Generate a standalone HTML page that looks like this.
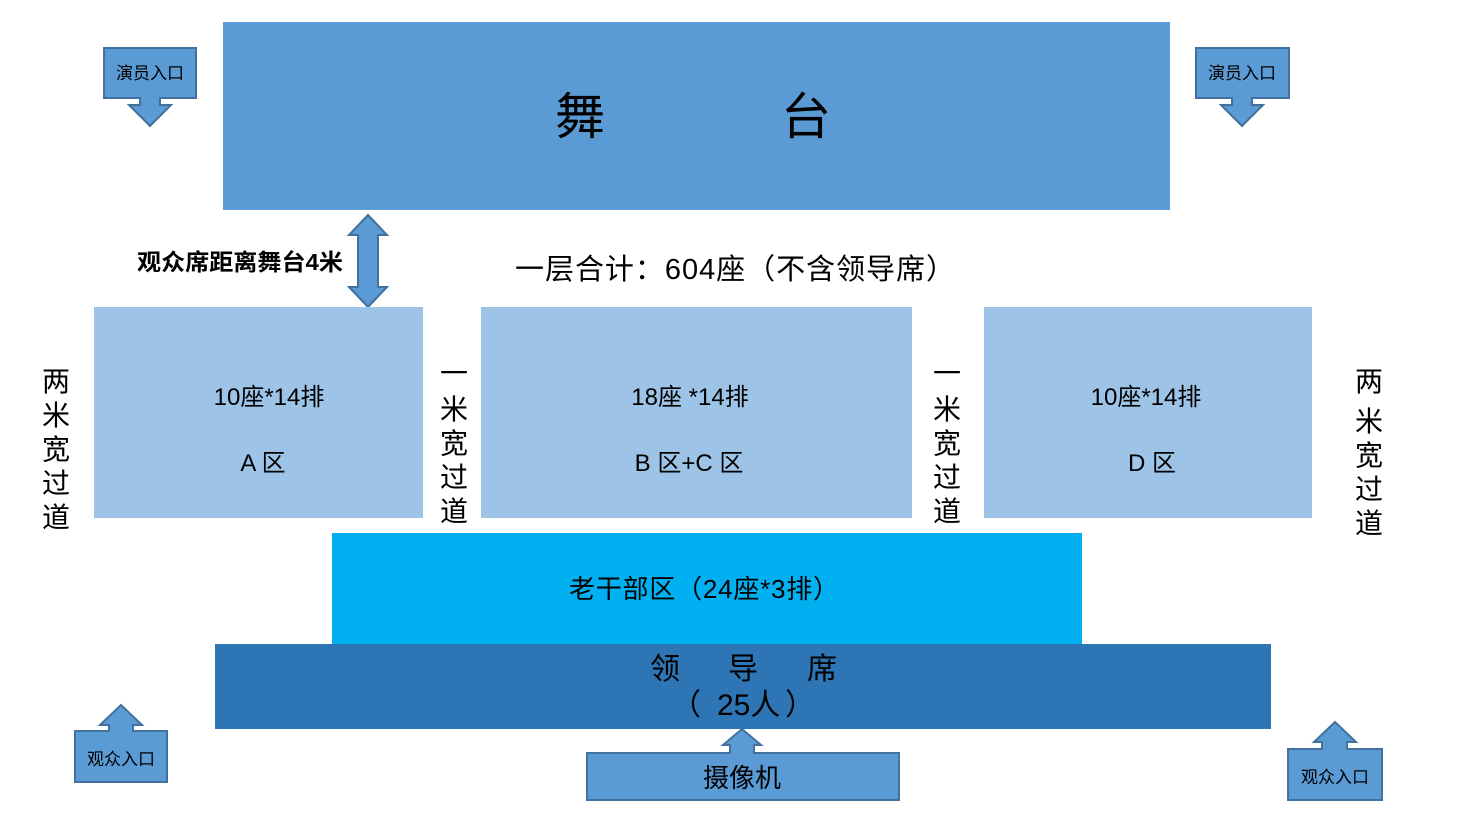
<!DOCTYPE html>
<html><head><meta charset="utf-8"><style>
html,body{margin:0;padding:0;background:#fff;}
svg{display:block;font-family:"Liberation Sans","Noto Sans CJK SC",sans-serif;}
</style></head><body>
<svg width="1459" height="818" viewBox="0 0 1459 818" xmlns="http://www.w3.org/2000/svg">
<rect x="0" y="0" width="1459" height="818" fill="#fff"/>
<rect x="223" y="22" width="947" height="188" fill="#5B9BD5"/>
<text x="580" y="134" font-size="50" text-anchor="middle" fill="#000">舞</text>
<text x="806" y="134" font-size="50" text-anchor="middle" fill="#000">台</text>

<g fill="#5B9BD5" stroke="#41719C" stroke-width="2">
<path d="M104 48 H196 V98 H160 V105 H171 L150 126 L129 105 H140 V98 H104 Z"/>
<path d="M1196 48 H1289 V98 H1252 V105 H1263 L1242 126 L1221 105 H1232 V98 H1196 Z"/>
<path d="M75 731 H109 V725 H100 L121 705 L142 725 H133 V731 H167 V782 H75 Z"/>
<path d="M1288 749 H1322 V742 H1314 L1335 722 L1356 742 H1347 V749 H1382 V800 H1288 Z"/>
<path d="M368 215 L387 235 H378 V287 H387 L368 307 L349 287 H358 V235 H349 Z"/>
</g>
<text x="150" y="79" font-size="17" text-anchor="middle">演员入口</text>
<text x="1242" y="79" font-size="17" text-anchor="middle">演员入口</text>
<text x="121" y="765" font-size="17" text-anchor="middle">观众入口</text>
<text x="1335" y="783" font-size="17" text-anchor="middle">观众入口</text>

<text x="137" y="270" font-size="23" font-weight="bold" textLength="206" lengthAdjust="spacingAndGlyphs">观众席距离舞台4米</text>
<text x="515" y="279" font-size="29" textLength="440" lengthAdjust="spacing">一层合计：604座（不含领导席）</text>

<rect x="94" y="307" width="329" height="211" fill="#9DC3E6"/>
<rect x="481" y="307" width="431" height="211" fill="#9DC3E6"/>
<rect x="984" y="307" width="328" height="211" fill="#9DC3E6"/>
<g font-size="24" text-anchor="middle">
<text x="269" y="405">10座*14排</text>
<text x="263" y="471">A 区</text>
<text x="690" y="405">18座 *14排</text>
<text x="689" y="471">B  区+C 区</text>
<text x="1146" y="405">10座*14排</text>
<text x="1152" y="471">D 区</text>
</g>

<g font-size="28" text-anchor="middle">
<text x="56" y="391">两</text><text x="56" y="425">米</text><text x="56" y="459">宽</text><text x="56" y="493">过</text><text x="56" y="527">道</text>
<text x="1369" y="391">两</text><text x="1369" y="431">米</text><text x="1369" y="465">宽</text><text x="1369" y="499">过</text><text x="1369" y="533">道</text>
<text x="454" y="383">一</text><text x="454" y="419">米</text><text x="454" y="453">宽</text><text x="454" y="487">过</text><text x="454" y="521">道</text>
<text x="947" y="383">一</text><text x="947" y="419">米</text><text x="947" y="453">宽</text><text x="947" y="487">过</text><text x="947" y="521">道</text>
</g>

<rect x="332" y="533" width="750" height="111" fill="#00B0F0"/>
<text x="569" y="598" font-size="26" textLength="270" lengthAdjust="spacing">老干部区（24座*3排）</text>

<rect x="215" y="644" width="1056" height="85" fill="#2E75B6"/>
<text x="665" y="679" font-size="30" text-anchor="middle">领</text>
<text x="743" y="679" font-size="30" text-anchor="middle">导</text>
<text x="822" y="679" font-size="30" text-anchor="middle">席</text>
<text x="671" y="715" font-size="30">（</text>
<text x="717" y="715" font-size="30">25人</text>
<text x="785" y="715" font-size="30">）</text>

<path d="M587 753 H730 V745 H723 L742 729 L761 745 H754 V753 H899 V800 H587 Z" fill="#5B9BD5" stroke="#41719C" stroke-width="2"/>
<text x="742" y="787" font-size="26" text-anchor="middle">摄像机</text>
</svg>
</body></html>
